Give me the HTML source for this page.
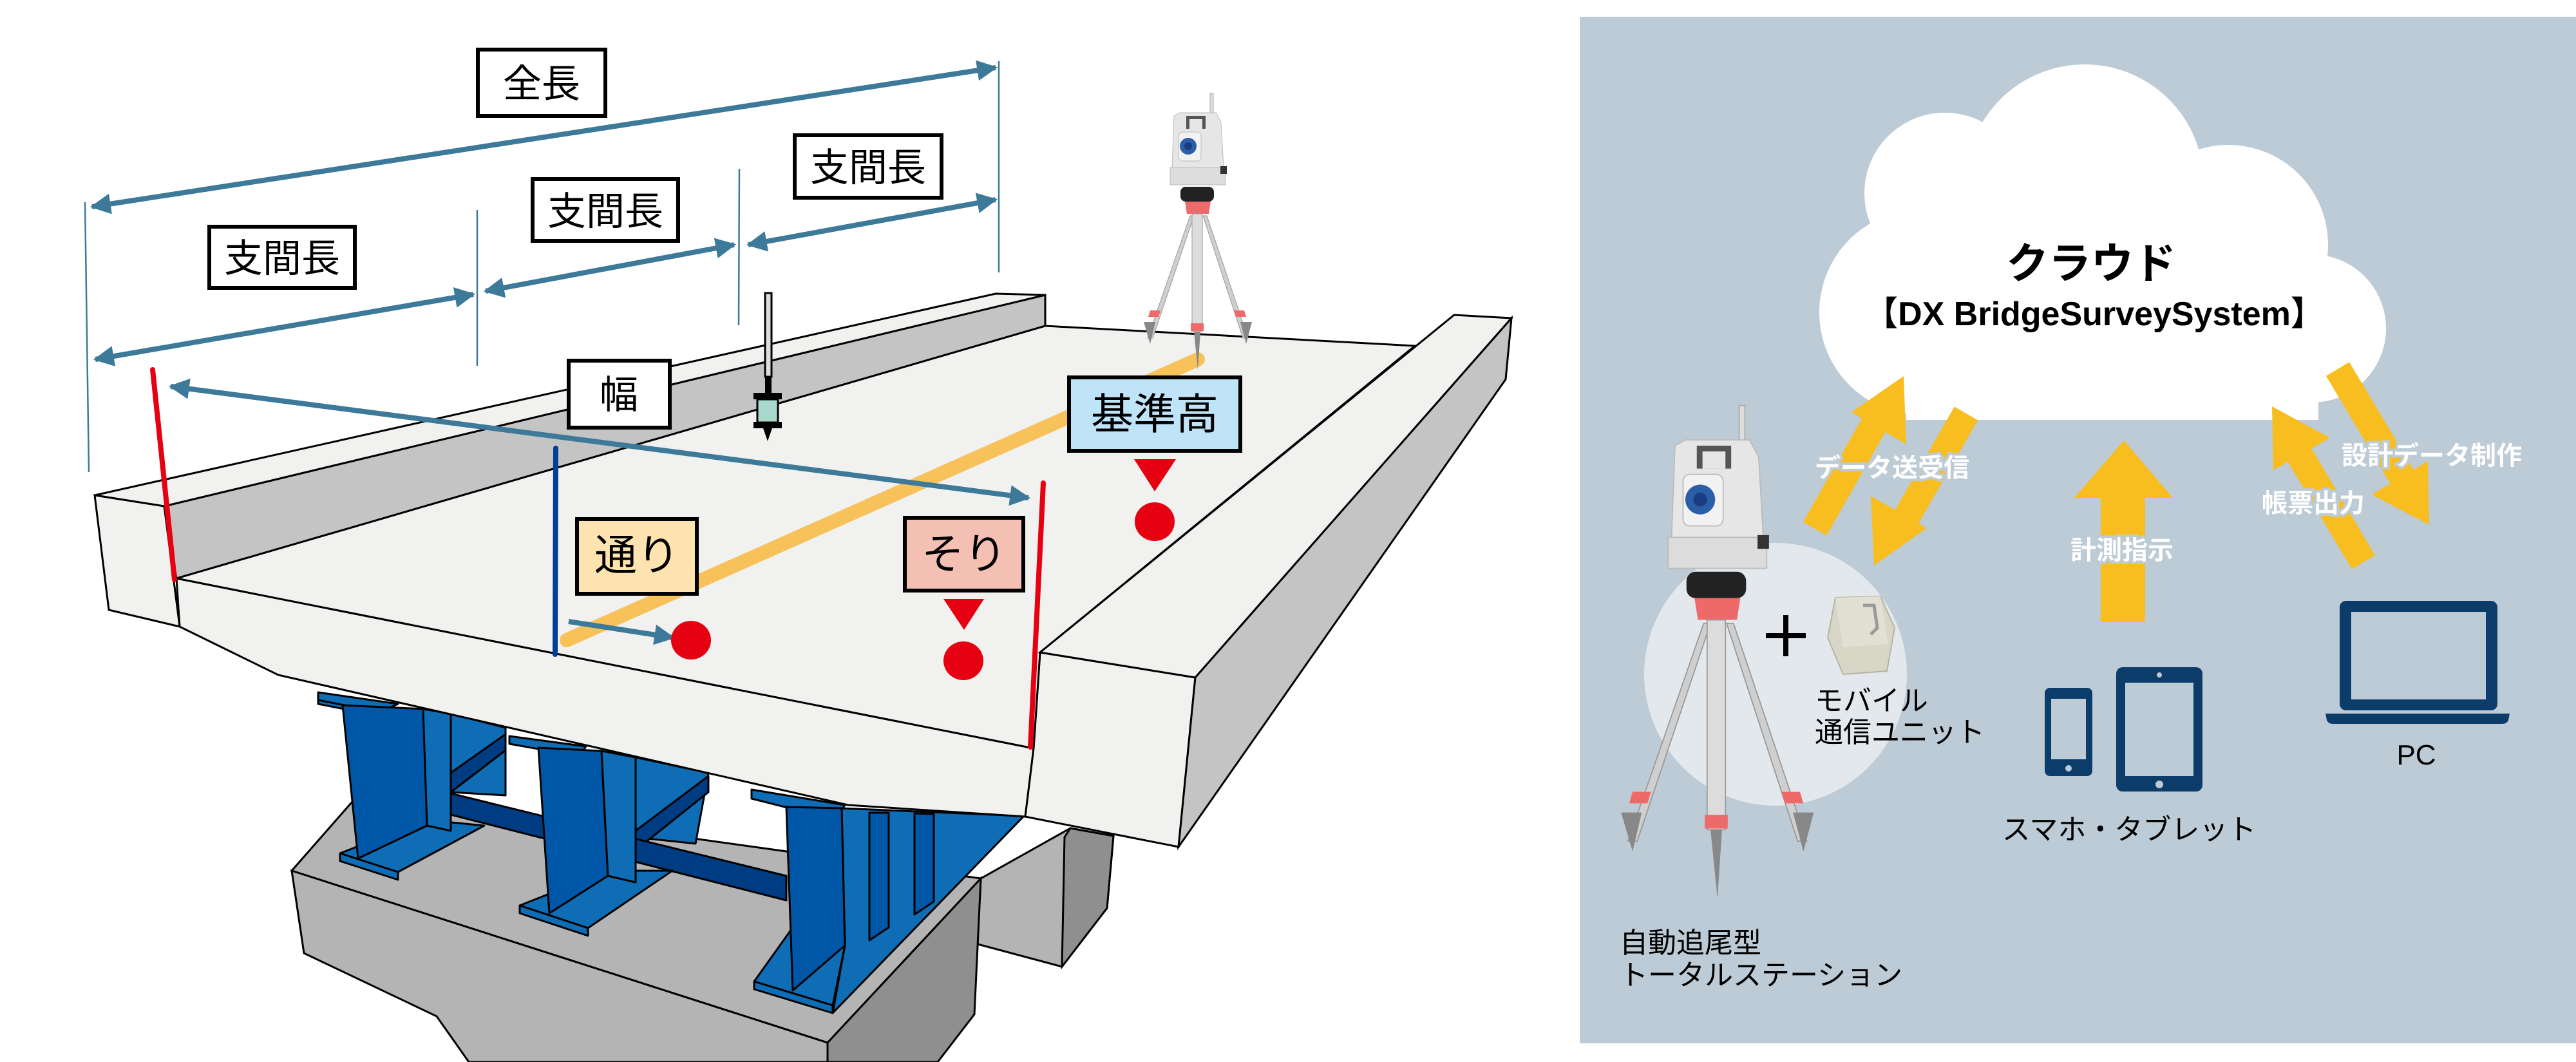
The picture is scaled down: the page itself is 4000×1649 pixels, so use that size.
<!DOCTYPE html>
<html><head><meta charset="utf-8"><style>
html,body{margin:0;padding:0;background:#fff}
svg{display:block}
.jp{font-family:"Liberation Sans","Noto Sans CJK JP",sans-serif}
</style></head><body>
<svg width="4000" height="1649" viewBox="0 0 4000 1649" xmlns="http://www.w3.org/2000/svg">
<defs>
<marker id="ah" viewBox="0 0 10 10" refX="9" refY="5" markerWidth="4" markerHeight="4" orient="auto-start-reverse" markerUnits="strokeWidth">
<path d="M0,0 L10,5 L0,10 z" fill="#3d7a99"/></marker>
<g id="ts">
<rect x="129" y="15" width="5" height="35" fill="#ddd" stroke="#aaa" stroke-width="1"/>
<path d="M73,50 L82,45 L138,45 L146,60 L150,130 L70,130 Z" fill="#e6e6e6" stroke="#bbb" stroke-width="1"/>
<rect x="92" y="50" width="30" height="20" fill="#555"/>
<rect x="97" y="55" width="20" height="15" fill="#e6e6e6"/>
<rect x="80" y="75" width="35" height="45" rx="6" fill="#f2f2f2" stroke="#bbb"/>
<circle cx="95" cy="97" r="13" fill="#2a5fa8"/><circle cx="95" cy="97" r="6" fill="#1a3c80"/>
<rect x="67" y="130" width="86" height="27" fill="#dcdcdc" stroke="#bbb"/>
<rect x="145" y="128" width="10" height="12" fill="#333"/>
<rect x="83" y="160" width="52" height="23" rx="8" fill="#222"/>
<path d="M90,183 L130,183 L127,202 L93,202 Z" fill="#ee6a6a"/>
<path d="M98,205 L104,205 L40,395 L32,395 Z" fill="#cfcfcf" stroke="#999"/>
<path d="M118,205 L124,205 L188,395 L180,395 Z" fill="#cfcfcf" stroke="#999"/>
<rect x="101" y="202" width="16" height="183" fill="#dcdcdc" stroke="#999"/>
<rect x="99" y="372" width="20" height="12" fill="#ee6a6a"/>
<path d="M36,352 L52,352 L49,362 L33,362 Z" fill="#ee6a6a"/>
<path d="M166,352 L182,352 L185,362 L169,362 Z" fill="#ee6a6a"/>
<path d="M26,370 L44,370 L36,404 Z" fill="#888"/>
<path d="M176,370 L194,370 L185,404 Z" fill="#888"/>
<path d="M104,385 L114,385 L110,445 Z" fill="#888"/>
</g>
</defs>

<!-- ===== LEFT: bridge ===== -->
<polygon points="1523,1364 1662,1286 1729,1298 1719,1410 1649,1501 1518,1466" fill="#b4b4b4" stroke="#000" stroke-width="3"/>
<polygon points="1662,1286 1729,1298 1719,1410 1649,1501 1653,1300" fill="#8f8f8f" stroke="#000" stroke-width="3"/>
<polygon points="728,1649 710,1560 1285,1619 1300,1649" fill="#b4b4b4" stroke="#000" stroke-width="3"/>
<polygon points="453,1352 560,1230 1523,1364 1285,1619" fill="#b4b4b4" stroke="#000" stroke-width="3"/>
<polygon points="453,1352 1285,1619 1285,1649 728,1649 678,1578 472,1480" fill="#b4b4b4" stroke="#000" stroke-width="3"/>
<polygon points="1285,1619 1523,1364 1513,1575 1456,1649 1285,1649" fill="#8f8f8f" stroke="#000" stroke-width="3"/>
<!-- girders -->
<g stroke="#000" stroke-width="3" stroke-linejoin="round">
<!-- back parts -->
<polygon points="700,1108 785,1130 785,1235 700,1230" fill="#0f6db6"/>
<polygon points="987,1176 1100,1200 1080,1310 987,1300" fill="#0f6db6"/>
<polygon points="700,1200 785,1140 785,1165 700,1230" fill="#003c82"/>
<polygon points="987,1290 1100,1205 1100,1230 987,1320" fill="#003c82"/>
<!-- cross beam -->
<polygon points="700,1232 1221,1360 1221,1398 700,1265" fill="#003c82"/>
<!-- girder 1 -->
<polygon points="494,1075 618,1093 590,1106 494,1087" fill="#0f6db6"/>
<polygon points="494,1087 590,1106 590,1112 494,1093" fill="#0f6db6"/>
<polygon points="528,1325 661,1273 752,1282 618,1354" fill="#0f6db6"/>
<polygon points="528,1325 618,1354 618,1366 528,1337" fill="#0f6db6"/>
<polygon points="532,1095 661,1101 663,1282 556,1333" fill="#0057a8"/>
<polygon points="657,1101 700,1108 700,1290 663,1282" fill="#0f6db6"/>
<!-- girder 2 -->
<polygon points="791,1143 910,1159 899,1174 791,1155" fill="#0f6db6"/>
<polygon points="807,1406 944,1352 1044,1352 913,1441" fill="#0f6db6"/>
<polygon points="807,1406 913,1441 913,1453 807,1418" fill="#0f6db6"/>
<polygon points="836,1161 934,1166 944,1360 853,1418" fill="#0057a8"/>
<polygon points="934,1166 987,1176 987,1370 944,1360" fill="#0f6db6"/>
<!-- girder 3 -->
<polygon points="1167,1226 1312,1250 1298,1273 1167,1240" fill="#0f6db6"/>
<polygon points="1307,1255 1590,1267 1293,1573 1312,1468" fill="#0f6db6"/>
<polygon points="1350,1262 1380,1262 1380,1440 1350,1460" fill="#0057a8"/>
<polygon points="1420,1263 1450,1264 1450,1400 1420,1420" fill="#0057a8"/>
<polygon points="1171,1524 1231,1440 1312,1468 1293,1561" fill="#0f6db6"/>
<polygon points="1171,1524 1293,1561 1293,1573 1171,1536" fill="#0f6db6"/>
<polygon points="1221,1253 1307,1255 1312,1468 1231,1538" fill="#0057a8"/>
</g>
<!-- deck front face -->
<polygon points="274,898 1605,1162 1592,1268 1317,1250 432,1048 279,973" fill="#f1f1ef" stroke="#000" stroke-width="3"/>
<polygon points="1605,1162 1615,1013 1856,1052 1830,1315 1592,1268" fill="#f1f1ef" stroke="#000" stroke-width="3"/>
<polygon points="274,898 1605,1162 1615,1013 2197,537 1623,506" fill="#f1f1ef" stroke="#000" stroke-width="3"/>
<polygon points="1615,1013 2258,489 2347,494 1856,1052" fill="#f1f1ef" stroke="#000" stroke-width="3"/>
<polygon points="1856,1052 2347,494 2338,589 1830,1315" fill="#c4c4c4" stroke="#000" stroke-width="3"/>
<polygon points="255,786 1623,458 1623,506 274,898" fill="#c4c4c4" stroke="#000" stroke-width="3"/>
<polygon points="147,769 1546,456 1623,458 255,786" fill="#f1f1ef" stroke="#000" stroke-width="3"/>
<polygon points="147,769 255,786 279,973 169,947" fill="#f1f1ef" stroke="#000" stroke-width="3"/>

<line x1="880" y1="994" x2="1860" y2="558" stroke="#f7c25a" stroke-width="22" stroke-linecap="round"/>
<use href="#ts" transform="translate(1750,130)"/>
<rect x="1188" y="455" width="10" height="130" fill="#ddd" stroke="#000" stroke-width="3"/>
<rect x="1188" y="585" width="10" height="25" fill="#000"/>
<rect x="1170" y="610" width="44" height="10" fill="#000"/>
<rect x="1176" y="620" width="32" height="36" fill="#a9d9cc" stroke="#000" stroke-width="3"/>
<rect x="1170" y="655" width="44" height="10" fill="#000"/>
<path d="M1185,665 L1199,665 L1192,685 Z" fill="#000"/>

<g stroke="#3d7a99" stroke-width="2.5">
<line x1="132" y1="314" x2="138" y2="733"/>
<line x1="741" y1="326" x2="741" y2="568"/>
<line x1="1148" y1="262" x2="1147" y2="505"/>
<line x1="1551" y1="95" x2="1551" y2="423"/>
</g>
<g stroke="#3d7a99" stroke-width="8" marker-start="url(#ah)" marker-end="url(#ah)" fill="none">
<line x1="143" y1="321" x2="1546" y2="105"/>
<line x1="148" y1="558" x2="735" y2="457"/>
<line x1="754" y1="452" x2="1140" y2="380"/>
<line x1="1162" y1="380" x2="1546" y2="310"/>
<line x1="265" y1="600" x2="1597" y2="773"/>
<line x1="883" y1="965" x2="1045" y2="990" marker-start="none"/>
</g>
<line x1="237" y1="574" x2="271" y2="900" stroke="#e50012" stroke-width="8" stroke-linecap="round"/>
<line x1="1620" y1="750" x2="1600" y2="1160" stroke="#e50012" stroke-width="8" stroke-linecap="round"/>
<line x1="863" y1="696" x2="862" y2="1016" stroke="#003f98" stroke-width="8" stroke-linecap="round"/>
<g fill="#e50012">
<ellipse cx="1073" cy="994" rx="31" ry="30"/>
<ellipse cx="1496" cy="1026" rx="31" ry="30"/>
<ellipse cx="1793" cy="810" rx="31" ry="30"/>
<polygon points="1465,930 1528,930 1497,978"/>
<polygon points="1761,713 1826,713 1793,763"/>
</g>
<g class="jp" font-size="60" text-anchor="middle" stroke-width="6">
<rect x="742" y="77" width="198" height="103" fill="#fff" stroke="#000"/>
<text x="841" y="151" stroke="none">全長</text>
<rect x="325" y="352" width="226" height="95" fill="#fff" stroke="#000"/>
<text x="438" y="422" stroke="none">支間長</text>
<rect x="827" y="278" width="226" height="96" fill="#fff" stroke="#000"/>
<text x="940" y="349" stroke="none">支間長</text>
<rect x="1234" y="210" width="228" height="97" fill="#fff" stroke="#000"/>
<text x="1348" y="281" stroke="none">支間長</text>
<rect x="883" y="560" width="157" height="104" fill="#fff" stroke="#000"/>
<text x="961" y="634" stroke="none">幅</text>
<rect x="896" y="806" width="186" height="116" fill="#fde3af" stroke="#000"/>
<text x="989" y="885" stroke="none" font-size="66">通り</text>
<rect x="1405" y="804" width="184" height="113" fill="#f5c0b4" stroke="#000"/>
<text x="1497" y="883" stroke="none" font-size="66">そり</text>
<rect x="1660" y="586" width="266" height="114" fill="#bfe4f7" stroke="#000"/>
<text x="1793" y="666" stroke="none" font-size="66">基準高</text>
</g>

<!-- ===== RIGHT panel ===== -->
<rect x="2453" y="26" width="1547" height="1594" fill="#bccbd5"/>
<g fill="#fff">
<circle cx="3237" cy="285" r="185"/>
<circle cx="3020" cy="300" r="125"/>
<circle cx="2985" cy="485" r="160"/>
<circle cx="3460" cy="380" r="155"/>
<circle cx="3590" cy="510" r="115"/>
<rect x="2960" y="420" width="640" height="232"/>
<ellipse cx="3120" cy="560" rx="180" ry="92"/>
</g>
<text x="3247" y="432" class="jp" font-size="66" font-weight="bold" text-anchor="middle">クラウド</text>
<text x="3252" y="505" class="jp" font-size="52" font-weight="bold" text-anchor="middle">【DX BridgeSurveySystem】</text>
<g stroke="#f8bd1e" stroke-width="42" fill="none">
<line x1="2818" y1="821" x2="2925" y2="633"/>
<line x1="3053" y1="642" x2="2945" y2="830"/>
<line x1="3670" y1="873" x2="3555" y2="680"/>
<line x1="3630" y1="573" x2="3745" y2="766"/>
</g>
<g fill="#f8bd1e">
<polygon points="2956,584 2960,690 2875,640"/>
<polygon points="2910,878 2905,770 2992,820"/>
<polygon points="3528,631 3618,680 3530,730"/>
<polygon points="3772,815 3683,768 3770,716"/>
<polygon points="3298,684 3374,773 3331,773 3331,966 3262,966 3262,773 3221,773"/>
</g>
<g class="jp" font-size="40" font-weight="bold" fill="#fff" stroke="#bccbd5" stroke-width="8" paint-order="stroke" text-anchor="middle">
<text x="2938" y="740">データ送受信</text>
<text x="3295" y="868">計測指示</text>
<text x="3776" y="721">設計データ制作</text>
<text x="3592" y="795">帳票出力</text>
</g>
<circle cx="2757" cy="1047" r="204" fill="#e3e8ec"/>
<use href="#ts" transform="translate(2471,603) scale(1.78)"/>
<rect x="2742" y="983" width="62" height="8" fill="#000"/>
<rect x="2769" y="955" width="8" height="64" fill="#000"/>
<path d="M2850,928 L2920,926 L2942,975 L2930,1042 L2862,1047 L2838,990 Z" fill="#d8d6c6" stroke="#b5b3a3" stroke-width="2"/>
<path d="M2850,928 L2920,926 L2932,1000 L2862,1005 Z" fill="#e2e0d2"/>
<path d="M2893,940 L2910,940 L2915,975 L2905,985" stroke="#9a9a9a" stroke-width="5" fill="none"/>
<g class="jp" font-size="44" fill="#000">
<text x="2818" y="1103">モバイル</text>
<text x="2818" y="1152">通信ユニット</text>
<text x="2515" y="1479">自動追尾型</text>
<text x="2515" y="1529">トータルステーション</text>
<text x="3306" y="1303" text-anchor="middle">スマホ・タブレット</text>
<text x="3752" y="1187" text-anchor="middle">PC</text>
</g>
<rect x="3175" y="1068" width="74" height="137" rx="8" fill="#0c3d6a"/>
<rect x="3185" y="1085" width="54" height="94" fill="#bccbd5"/>
<circle cx="3212" cy="1193" r="5" fill="#bccbd5"/>
<rect x="3286" y="1036" width="134" height="193" rx="10" fill="#0c3d6a"/>
<rect x="3300" y="1060" width="106" height="145" fill="#bccbd5"/>
<circle cx="3353" cy="1218" r="6" fill="#bccbd5"/>
<circle cx="3353" cy="1048" r="4" fill="#bccbd5"/>
<rect x="3633" y="933" width="245" height="170" rx="10" fill="#0c3d6a"/>
<rect x="3651" y="950" width="209" height="136" fill="#bccbd5"/>
<path d="M3611,1108 L3897,1108 L3895,1118 Q3893,1124 3885,1124 L3623,1124 Q3615,1124 3613,1118 Z" fill="#0c3d6a"/>
</svg>
</body></html>
